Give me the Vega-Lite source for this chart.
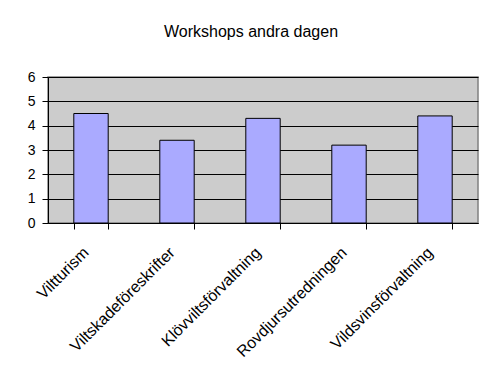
{
  "$schema": "https://vega.github.io/schema/vega-lite/v6.json",
  "autosize": {"type": "none"},
  "width": 430,
  "height": 146,
  "padding": {"left": 48, "top": 77, "right": 5, "bottom": 145},
  "background": "white",
  "title": {
    "text": "Workshops andra dagen",
    "font": "Liberation Sans",
    "fontSize": 16,
    "fontWeight": "normal",
    "color": "#000000",
    "anchor": "middle",
    "frame": "group",
    "dx": -12,
    "offset": 30
  },
  "data": {
    "values": [
      {"workshop": "Viltturism", "value": 4.5},
      {"workshop": "Viltskadeföreskrifter", "value": 3.4},
      {"workshop": "Klövviltsförvaltning", "value": 4.3},
      {"workshop": "Rovdjursutredningen", "value": 3.2},
      {"workshop": "Vildsvinsförvaltning", "value": 4.4}
    ]
  },
  "mark": {"type": "bar", "fill": "#AAAAFF", "stroke": "#000000", "strokeWidth": 1},
  "encoding": {
    "x": {
      "field": "workshop",
      "type": "nominal",
      "sort": null,
      "scale": {"paddingInner": 0.6, "paddingOuter": 0.3},
      "axis": {
        "title": null,
        "labelAngle": -45,
        "labelAlign": "right",
        "labelBaseline": "top",
        "labelFont": "Liberation Sans",
        "labelFontSize": 16,
        "labelColor": "#000000",
        "labelPadding": 15,
        "labelOffset": -11,
        "labelLimit": 300,
        "tickBand": "extent",
        "tickSize": 6,
        "tickColor": "#000000",
        "domainColor": "#000000",
        "grid": false
      }
    },
    "y": {
      "field": "value",
      "type": "quantitative",
      "scale": {"domain": [0, 6], "nice": false},
      "axis": {
        "title": null,
        "values": [0, 1, 2, 3, 4, 5, 6],
        "labelFont": "Liberation Sans",
        "labelFontSize": 14,
        "labelColor": "#000000",
        "labelPadding": 7,
        "tickSize": 6,
        "tickColor": "#000000",
        "domainColor": "#000000",
        "grid": true,
        "gridColor": "#000000",
        "gridOpacity": 1
      }
    }
  },
  "config": {
    "view": {"fill": "#CCCCCC", "stroke": "#808080", "strokeWidth": 1.5},
    "axis": {"domainWidth": 1, "tickWidth": 1, "gridWidth": 1}
  }
}
